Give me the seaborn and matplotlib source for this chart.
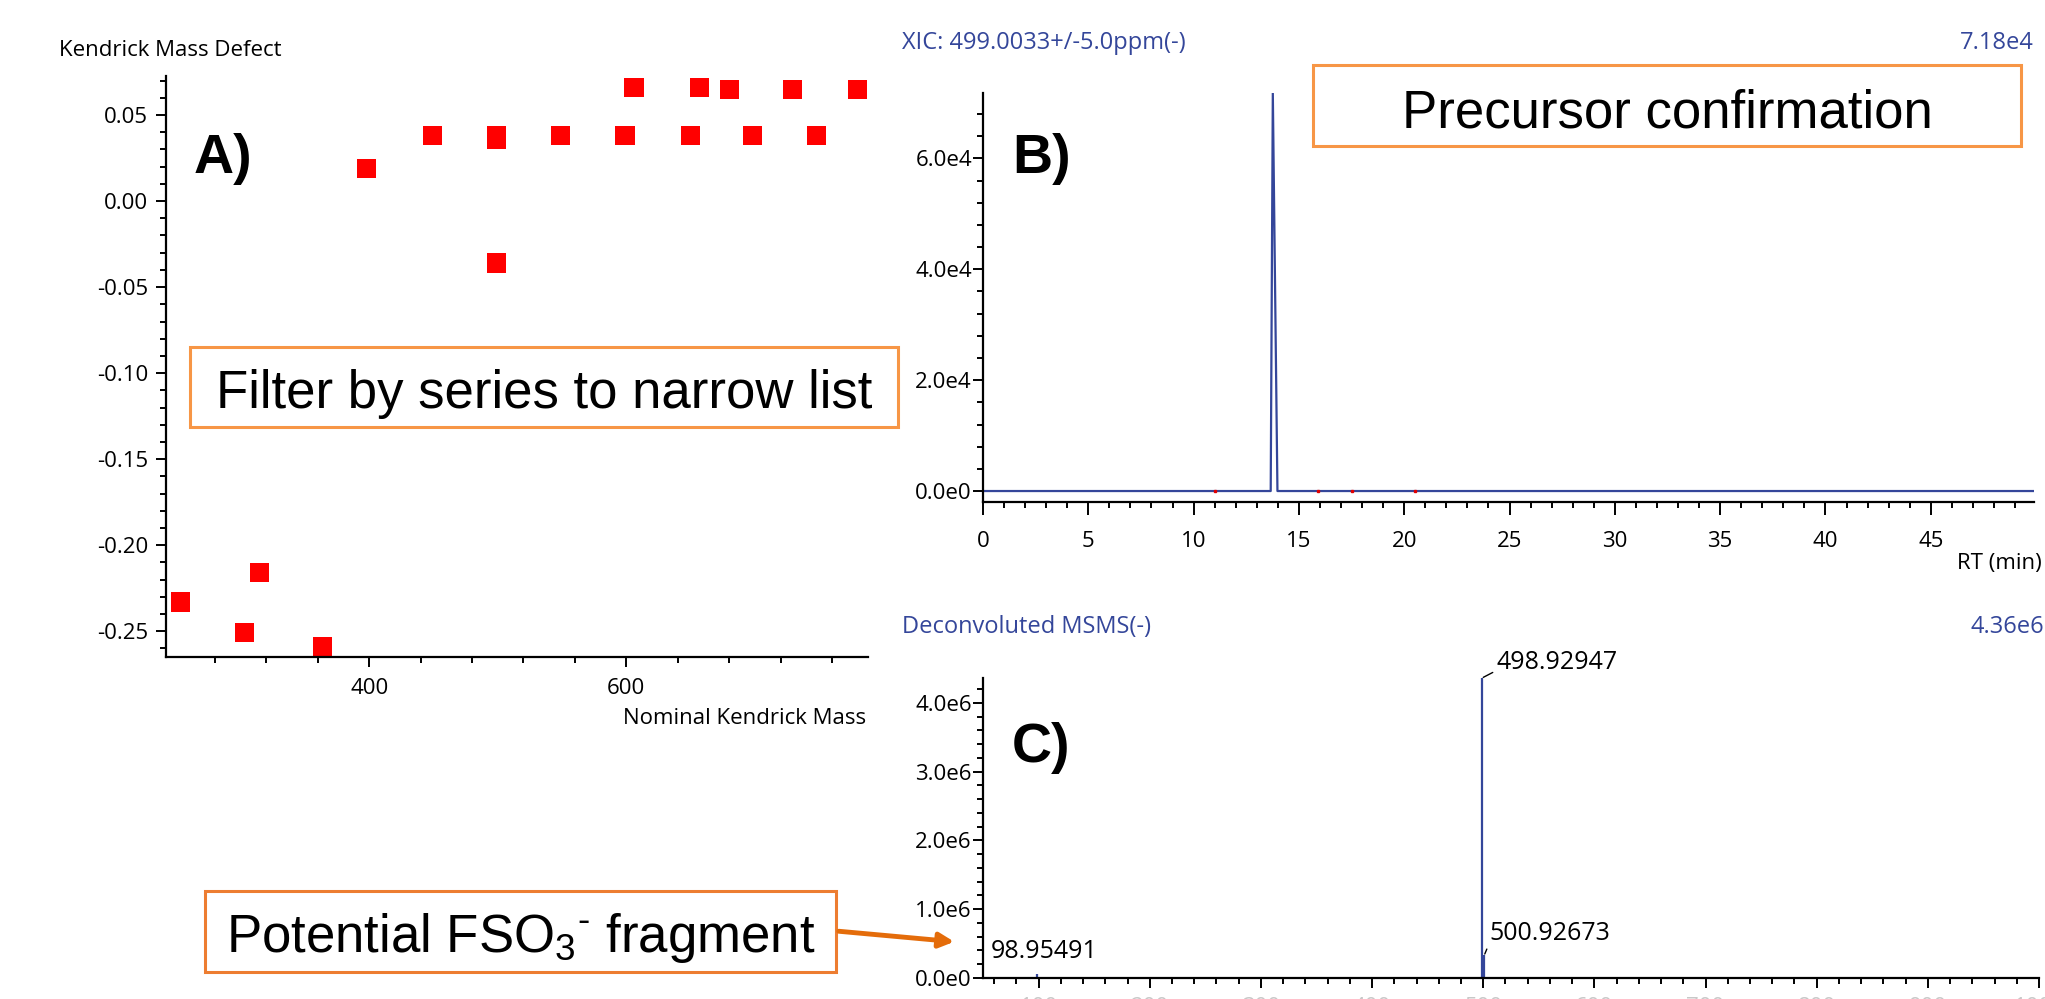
import numpy as np
import matplotlib
matplotlib.use("Agg")
import matplotlib.pyplot as plt
import seaborn as sns
from matplotlib.ticker import MultipleLocator, FuncFormatter
from matplotlib.patches import Rectangle, FancyArrowPatch

# A) Kendrick mass defect plot
kmd_mass = [253, 303, 315, 364, 398, 449, 499, 499, 499, 549, 599, 606, 650, 657, 680, 698, 729, 748, 780]
kmd_defect = [-0.233, -0.251, -0.216, -0.259, 0.019, 0.038, 0.038, 0.036, -0.036, 0.038,
              0.038, 0.066, 0.038, 0.066, 0.065, 0.038, 0.065, 0.038, 0.065]

# B) extracted ion chromatogram
xic_rt = [0, 13.66, 13.76, 13.98, 50]
xic_int = [0, 0, 71800, 0, 0]
other_rt = [11.0, 15.9, 17.5, 20.5]

# C) deconvoluted MSMS spectrum
msms_mz = [98.95491, 498.92947, 500.92673]
msms_int = [0.06e6, 4.36e6, 0.33e6]
msms_lab = ["98.95491", "498.92947", "500.92673"]

sns.set_style("white")
plt.rcParams['font.family'] = ['Open Sans', 'DejaVu Sans']
plt.rcParams['axes.unicode_minus'] = False
plt.rcParams['text.color'] = 'black'
plt.rcParams['xtick.color'] = 'black'
plt.rcParams['ytick.color'] = 'black'
plt.rcParams['mathtext.fontset'] = 'custom'
plt.rcParams['mathtext.rm'] = 'Liberation Sans'

W, H = 2045, 999
blue = '#34469a'


def fx(x):
    return x / W


def fy(y):
    return 1 - y / H


def ax_rect(l, r, t, b):
    return [fx(l), fy(b), (r - l) / W, (b - t) / H]


def sci(v, pos):
    if abs(v) < 1e-9:
        return "0.0e0"
    e = int(np.floor(np.log10(abs(v))))
    return f"{v / 10**e:.1f}e{e}"


def style_axes(ax):
    sns.despine(ax=ax)
    for s in ['left', 'bottom']:
        ax.spines[s].set_linewidth(1.6)
        ax.spines[s].set_color('black')
    ax.tick_params(which='major', length=7, width=1.4, color='black', labelsize=16,
                   labelcolor='black')
    ax.tick_params(which='minor', length=4, width=1.4, color='black')
    ax.tick_params(axis='both', which='both', direction='out', bottom=True, left=True)
    ax.set_xlabel('')
    ax.set_ylabel('')


fig = plt.figure(figsize=(W / 100, H / 100), dpi=100)

# panel A
axA = fig.add_axes(ax_rect(166, 868, 76, 657))
sns.scatterplot(x=kmd_mass, y=kmd_defect, marker='s', s=190, color='#ff0000',
                edgecolor='none', ax=axA)
axA.set_xlim(242, 788)
axA.set_ylim(-0.265, 0.0727)
axA.xaxis.set_major_locator(MultipleLocator(200))
axA.xaxis.set_minor_locator(MultipleLocator(40))
axA.yaxis.set_major_locator(MultipleLocator(0.05))
axA.yaxis.set_minor_locator(MultipleLocator(0.01))
axA.yaxis.set_major_formatter(FuncFormatter(lambda v, p: f"{v:.2f}"))
style_axes(axA)
axA.tick_params(axis='y', pad=6)
axA.tick_params(axis='x', pad=8)

# panel B
axB = fig.add_axes(ax_rect(983, 2034, 93, 502))
sns.lineplot(x=xic_rt, y=xic_int, color=blue, lw=1.6, ax=axB)
axB.plot(other_rt, [0] * len(other_rt), ls='none', marker='s', ms=1.8, color='#e00000')
axB.set_xlim(0, 49.9)
axB.set_ylim(-1980, 71800)
axB.xaxis.set_major_locator(MultipleLocator(5))
axB.xaxis.set_minor_locator(MultipleLocator(1))
axB.yaxis.set_major_locator(MultipleLocator(2e4))
axB.yaxis.set_minor_locator(MultipleLocator(4000))
axB.yaxis.set_major_formatter(FuncFormatter(sci))
style_axes(axB)
axB.tick_params(axis='y', pad=1)
axB.tick_params(axis='x', which='major', length=9, pad=12)

# panel C
axC = fig.add_axes(ax_rect(983, 2039, 678, 978))
axC.vlines(msms_mz, 0, msms_int, color=blue, lw=1.6)
axC.set_xlim(50, 1000)
axC.set_ylim(0, 4.36e6)
axC.xaxis.set_major_locator(MultipleLocator(100))
axC.xaxis.set_minor_locator(MultipleLocator(20))
axC.yaxis.set_major_locator(MultipleLocator(1e6))
axC.yaxis.set_minor_locator(MultipleLocator(2e5))
axC.yaxis.set_major_formatter(FuncFormatter(sci))
style_axes(axC)
axC.tick_params(axis='y', pad=1)
axC.tick_params(axis='x', pad=7, labelcolor='#c8c8c8')

# peak labels
axC.annotate(msms_lab[0], xy=(msms_mz[0], msms_int[0]), xytext=(7, 22),
             textcoords='offset pixels', ha='center', va='center', fontsize=18)
axC.annotate(msms_lab[1], xy=(msms_mz[1], msms_int[1]), xytext=(14, 16),
             textcoords='offset pixels', ha='left', va='center', fontsize=18,
             arrowprops=dict(arrowstyle='-', color='black', lw=1, shrinkA=0, shrinkB=1,
                             relpos=(0, 0.15)))
axC.annotate(msms_lab[2], xy=(msms_mz[2], msms_int[2]), xytext=(5, 22),
             textcoords='offset pixels', ha='left', va='center', fontsize=18,
             arrowprops=dict(arrowstyle='-', color='black', lw=1, shrinkA=0, shrinkB=1,
                             relpos=(0, 0.1)))

# axis titles and headers
fig.text(fx(59), fy(51), "Kendrick Mass Defect", ha='left', va='center', fontsize=16)
fig.text(fx(866), fy(719), "Nominal Kendrick Mass", ha='right', va='center', fontsize=16)
fig.text(fx(2042), fy(564), "RT (min)", ha='right', va='center', fontsize=16)
fig.text(fx(902), fy(43), "XIC: 499.0033+/-5.0ppm(-)", ha='left', va='center', fontsize=17, color=blue)
fig.text(fx(2034), fy(43), "7.18e4", ha='right', va='center', fontsize=17, color=blue)
fig.text(fx(902), fy(627), "Deconvoluted MSMS(-)", ha='left', va='center', fontsize=17, color=blue)
fig.text(fx(2044), fy(627), "4.36e6", ha='right', va='center', fontsize=17, color=blue)

# panel letters
for lab, x, y in [("A)", 194, 173), ("B)", 1012, 173), ("C)", 1012, 762)]:
    fig.text(fx(x), fy(y), lab, ha='left', va='baseline', fontsize=40,
             fontweight='bold', family='Liberation Sans')

# callout boxes
boxes = [
    ("Filter by series to narrow list", 190, 898, 347, 427, 408, '#F79646'),
    ("Precursor confirmation", 1313, 2021, 65, 146, 127, '#F79646'),
    ("Potential FSO$_3$$^{\u2010}$ fragment", 205, 836, 891, 972, 952, '#ED7D31'),
]
for txt, x0, x1, y0, y1, yb, ec in boxes:
    fig.add_artist(Rectangle((fx(x0), fy(y1)), (x1 - x0) / W, (y1 - y0) / H,
                             transform=fig.transFigure, facecolor='white',
                             edgecolor=ec, lw=2.2, zorder=5))
    fig.text(fx((x0 + x1) / 2), fy(yb), txt, ha='center', va='baseline', fontsize=38,
             family='Liberation Sans', zorder=6)

fig.add_artist(FancyArrowPatch((fx(836), fy(931)), (fx(957), fy(942)),
                               transform=fig.transFigure, arrowstyle='-|>',
                               mutation_scale=22, color='#E46C0A', lw=3.5, zorder=6))

fig.savefig("out.png", dpi=100)
